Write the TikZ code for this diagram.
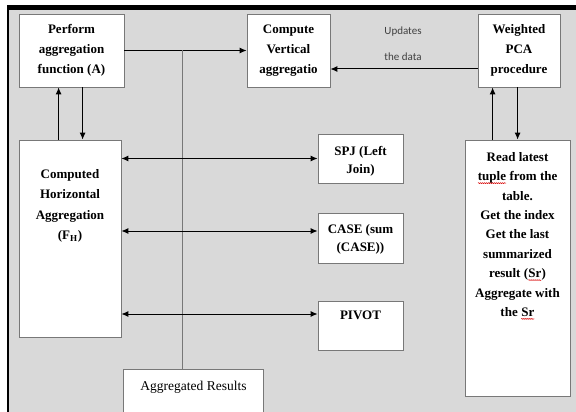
\documentclass[tikz,border=0pt]{standalone}
\usepackage{fontspec}
\setmainfont{LiberationSerif}[Extension=.ttf,UprightFont=*-Regular,BoldFont=*-Bold,ItalicFont=*-Italic,BoldItalicFont=*-BoldItalic]
\newfontfamily\notefont{Carlito}
\usetikzlibrary{arrows.meta,decorations.pathmorphing}
\definecolor{bggray}{RGB}{217,217,217}
\definecolor{boxgray}{RGB}{120,120,120}
\definecolor{notegray}{RGB}{64,64,64}
\newcommand\sqg[1]{\tikz[baseline=(sqw.base)]{\node[inner sep=0pt,outer sep=0pt,draw=none,fill=none,anchor=base](sqw){#1};\draw[red!85!black,line width=0.5pt,decorate,decoration={snake,amplitude=0.5pt,segment length=2pt}]([yshift=-2.5pt]sqw.base west)--([yshift=-2.5pt]sqw.base east);}}
\begin{document}
\begin{tikzpicture}[x=1pt,y=-1pt,
  box/.style={draw=boxgray,fill=white,line width=0.8pt,inner sep=0pt},
  txt/.style={font=\bfseries\fontsize{13}{20}\selectfont,align=center,inner sep=0pt},
  note/.style={font=\notefont\fontsize{11}{13}\selectfont,text=notegray,inner sep=0pt},
  arr/.style={-{Latex[length=7pt,width=6pt]},line width=1pt},
  darr/.style={{Latex[length=7pt,width=6pt]}-{Latex[length=7pt,width=6pt]},line width=1pt}]
\useasboundingbox[fill=white] (0,0) rectangle (576,412);
\fill[bggray] (8,10) rectangle (576,412);
\draw[line width=4.5pt] (7,7.5) -- (576,7.5);
\draw[line width=1.5pt] (8,5.5) -- (8,412);

% boxes
\node[box,txt,minimum width=105,minimum height=73] (A) at (71.5,50.5) {Perform\\aggregation\\function (A)};
\node[box,txt,minimum width=83,minimum height=73] (V) at (288.5,50.5) {Compute\\Vertical\\aggregatio};
\node[box,txt,minimum width=82,minimum height=73] (W) at (519,50.5) {Weighted\\PCA\\procedure};
\node[box,minimum width=102,minimum height=197] (FH) at (70,238.5) {};
\node[box,minimum width=85,minimum height=49] (SPJ) at (360.5,158.5) {};
\node[box,minimum width=85,minimum height=50] (CASE) at (360.5,238) {};
\node[box,minimum width=85,minimum height=49] (PIV) at (360.5,325.5) {};
\node[box,minimum width=105,minimum height=256] (RD) at (517.5,268) {};
\node[fill=white,inner sep=0pt,minimum width=139,minimum height=42] (AG) at (193.5,391) {};
\draw[boxgray,line width=0.8pt] (AG.south west) -- (AG.north west) -- (AG.north east) -- (AG.south east);

% texts inside top-aligned boxes
\node[txt,anchor=north,font=\bfseries\fontsize{13}{20.5}\selectfont] (FHt) at (70,169) {Computed\\Horizontal\\Aggregation\\(F\textsubscript{H})};
\node[txt,anchor=north,font=\bfseries\fontsize{13}{18.5}\selectfont] (SPJt) at (360.5,146) {SPJ (Left\\Join)};
\node[txt,anchor=north,font=\bfseries\fontsize{13}{18.5}\selectfont] (CASEt) at (360.5,224) {CASE (sum\\(CASE))};
\node[txt,anchor=north] (PIVt) at (360.5,311) {PIVOT};
\node[txt,anchor=north,font=\bfseries\fontsize{13}{19.4}\selectfont] (RDt) at (517.5,152) {Read latest\\\sqg{tuple} from the\\table.\\Get the index\\Get the last\\summarized\\result (\sqg{Sr})\\Aggregate with\\the \sqg{Sr}};
\node[txt,font=\fontsize{13.5}{20}\selectfont] (AGt) at (193.5,387) {Aggregated Results};

% notes
\node[note] (n1) at (403,32) {Updates};
\node[note] (n2) at (403,57) {the data};

% connectors
\draw[arr] (A.east) -- (V.west);
\draw[arr] ([yshift=-18.5]W.west) -- ([yshift=-18.5]W.west -| V.east);
\draw[boxgray,line width=0.8pt] ([xshift=-11.5]AG.north) -- ([xshift=-11.5]AG.north |- A.east);
\draw[arr] ([xshift=40]FH.north west) -- ([xshift=40]FH.north west |- A.south);
\draw[arr] ([xshift=64]FH.north west |- A.south) -- ([xshift=64]FH.north west);
\draw[arr] ([xshift=28]RD.north west) -- ([xshift=28]RD.north west |- W.south);
\draw[arr] ([xshift=53]RD.north west |- W.south) -- ([xshift=53]RD.north west);
\draw[darr] (SPJ.west -| FH.east) -- (SPJ.west);
\draw[darr] ([yshift=7]CASE.west -| FH.east) -- ([yshift=7]CASE.west);
\draw[darr] ([yshift=11.5]PIV.west -| FH.east) -- ([yshift=11.5]PIV.west);
\end{tikzpicture}
\end{document}
